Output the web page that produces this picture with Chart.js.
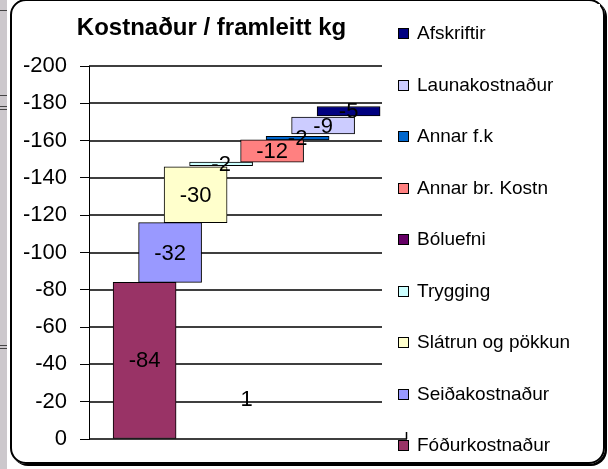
<!DOCTYPE html>
<html>
<head>
<meta charset="utf-8">
<script src="https://cdn.jsdelivr.net/npm/chart.js@4/dist/chart.umd.min.js"></script>
<style>
html,body{margin:0;padding:0;background:#fff;width:608px;height:469px;overflow:hidden;font-family:"Liberation Sans",Arial,sans-serif;}
#strip{position:absolute;left:0;top:0;width:7px;height:469px;background:#ccc8cc;}
.mark{position:absolute;left:0;width:7px;height:1px;background:#444;}
#frame{position:absolute;left:10px;top:-1px;width:591px;height:461px;border:2px solid #000;border-radius:16px;box-shadow:2px 2px 0 #000;}
#c{position:absolute;left:0;top:0;}
#title{position:absolute;left:0;width:423px;top:14px;text-align:center;font-weight:bold;font-size:24px;line-height:26px;color:#000;}
#legendBg{position:absolute;left:382px;top:4px;width:218px;height:428px;background:#fff;}
#legend{position:absolute;left:398px;top:0;width:200px;height:469px;}
.item{position:absolute;left:0;white-space:nowrap;font-size:19px;line-height:22px;height:22px;color:#000;}
.box{position:absolute;left:0;top:6px;width:9px;height:9px;border:1px solid #000;}
.txt{position:absolute;left:19px;top:0;}
</style>
</head>
<body>
<div id="strip"></div>
<div class="mark" style="top:10px"></div>
<div class="mark" style="top:95px"></div>
<div class="mark" style="top:106px"></div>
<div class="mark" style="top:109px"></div>
<div class="mark" style="top:345px"></div>
<div class="mark" style="top:348px"></div>
<div id="frame"></div>
<canvas id="c" width="608" height="469"></canvas>
<div id="legendBg"></div>
<div id="legend"></div>
<div id="title">Kostnaður / framleitt kg</div>
<script>
// ---- data ----
const categories = ['1'];
const seriesNames = ['Fóðurkostnaður', 'Seiðakostnaður', 'Slátrun og pökkun', 'Trygging', 'Bóluefni',
                     'Annar br. Kostn', 'Annar f.k', 'Launakostnaður', 'Afskriftir'];
const seriesStarts = [0, -84, -116, -146.5, -148.5, -148.4, -160.3, -163.6, -173.3];
const seriesValues = [-84, -32, -30, -2, 0, -12, -2, -9, -5];
const seriesColors = ['#993366', '#9999FF', '#FFFFCC', '#CCFFFF', '#660066',
                      '#FF8080', '#0066CC', '#CCCCFF', '#000080'];
const yMin = -200, yMax = 0, yStep = 20;
const categoryLabelLevel = -21;

const FONT = '"Liberation Sans", Arial, sans-serif';

const gridAndLabels = {
  id: 'gridAndLabels',
  beforeDatasetsDraw(chart) {
    const ctx = chart.ctx, ys = chart.scales.y, ca = chart.chartArea;
    ctx.save();
    ctx.strokeStyle = '#000';
    ctx.lineWidth = 1.5;
    ctx.beginPath();
    ys.ticks.forEach(t => {
      const y = Math.round(ys.getPixelForValue(t.value));
      ctx.moveTo(ca.left, y);
      ctx.lineTo(ca.right, y);
    });
    const xr = Math.round(ca.right) - 0.5, y0 = ys.getPixelForValue(0);
    ctx.moveTo(xr, y0);
    ctx.lineTo(xr, y0 - 8);
    ctx.stroke();
    ctx.restore();
  },
  afterDraw(chart) {
    const ctx = chart.ctx, xs = chart.scales.x, ys = chart.scales.y;
    ctx.save();
    ctx.font = '22px ' + FONT;
    ctx.fillStyle = '#000';
    ctx.textAlign = 'center';
    ctx.textBaseline = 'middle';
    chart.data.datasets.forEach((ds, i) => {
      const v = seriesValues[i];
      if (!v) return;
      chart.getDatasetMeta(i).data.forEach(el => {
        ctx.fillText(String(Math.round(v)), el.x, (el.y + el.base) / 2 + 1);
      });
    });
    ctx.fillText(categories[0], xs.getPixelForValue((seriesNames.length - 1) / 2), ys.getPixelForValue(categoryLabelLevel));
    ctx.restore();
  }
};

const datasets = seriesNames.map((name, i) => ({
  label: name,
  data: [{ x: i, y: [seriesStarts[i], seriesStarts[i] + seriesValues[i]] }],
  backgroundColor: seriesColors[i],
  borderColor: '#000',
  borderWidth: 1,
  borderSkipped: false,
  barThickness: 63,
  grouped: false
}));

const chart = new Chart(document.getElementById('c'), {
  type: 'bar',
  data: { datasets },
  options: {
    responsive: false,
    animation: false,
    devicePixelRatio: 1,
    layout: { padding: { left: 0, top: 66, right: 201, bottom: 30 } },
    plugins: { legend: { display: false }, tooltip: { enabled: false } },
    scales: {
      x: {
        type: 'linear',
        display: false,
        offset: false,
        min: -2.18,
        max: 10.29
      },
      y: {
        min: yMin,
        max: yMax,
        reverse: true,
        ticks: { stepSize: yStep, font: { size: 22, family: FONT }, color: '#000', padding: 13 },
        grid: { color: '#000', lineWidth: 1, tickLength: 9, drawOnChartArea: false },
        border: { color: '#000', width: 1 },
        afterFit(s) { s.width = 89; }
      }
    }
  },
  plugins: [gridAndLabels]
});

// legend (reverse order, as in the reference)
const legend = document.getElementById('legend');
const n = seriesNames.length;
for (let k = 0; k < n; k++) {
  const i = n - 1 - k;
  const item = document.createElement('div');
  item.className = 'item';
  item.style.top = (22 + k * 51.5) + 'px';
  const box = document.createElement('div');
  box.className = 'box';
  box.style.background = seriesColors[i];
  const txt = document.createElement('span');
  txt.className = 'txt';
  txt.textContent = seriesNames[i];
  item.appendChild(box);
  item.appendChild(txt);
  legend.appendChild(item);
}
</script>
</body>
</html>
